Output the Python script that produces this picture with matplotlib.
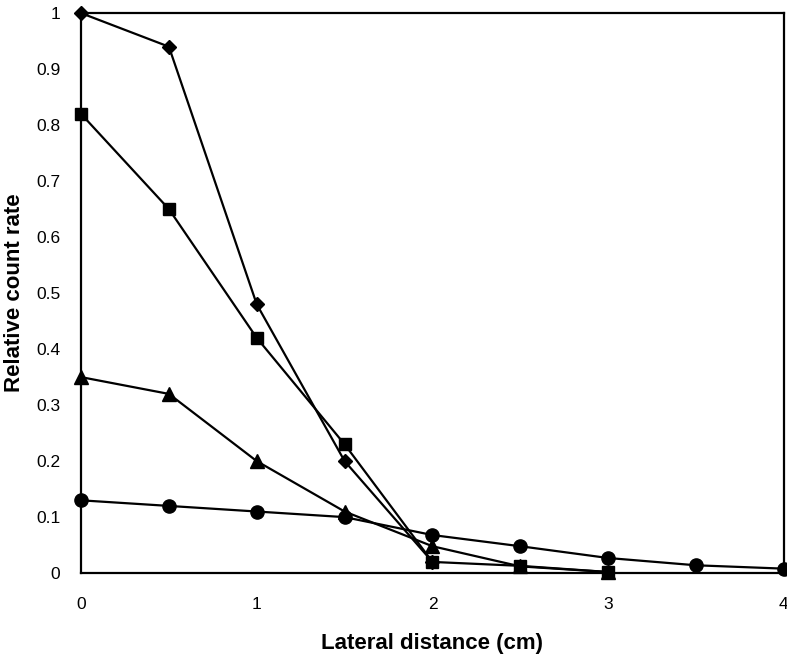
import matplotlib
matplotlib.use('Agg')
import matplotlib.pyplot as plt

plt.rcParams['font.family'] = ['Liberation Sans', 'DejaVu Sans']

# lateral distance (cm)
x_diamond = [0, 0.5, 1, 1.5, 2]
y_diamond = [1.0, 0.94, 0.48, 0.20, 0.02]

x_square = [0, 0.5, 1, 1.5, 2, 2.5, 3]
y_square = [0.82, 0.65, 0.42, 0.23, 0.02, 0.013, 0.002]

x_triangle = [0, 0.5, 1, 1.5, 2, 2.5, 3]
y_triangle = [0.35, 0.32, 0.20, 0.11, 0.048, 0.012, 0.002]

x_circle = [0, 0.5, 1, 1.5, 2, 2.5, 3, 3.5, 4]
y_circle = [0.13, 0.12, 0.11, 0.10, 0.068, 0.048, 0.027, 0.014, 0.008]

xticks = [0, 1, 2, 3, 4]
yticks = [0, 0.1, 0.2, 0.3, 0.4, 0.5, 0.6, 0.7, 0.8, 0.9, 1]
ylabels = ['0', '0.1', '0.2', '0.3', '0.4', '0.5', '0.6', '0.7', '0.8', '0.9', '1']

fig = plt.figure(figsize=(7.87, 6.55), dpi=100)
ax = fig.add_axes([0.103, 0.125, 0.893, 0.855])

kw = dict(color='black', linewidth=1.6, clip_on=False)
ax.plot(x_circle, y_circle, marker='o', markersize=9.5, **kw)
ax.plot(x_triangle, y_triangle, marker='^', markersize=9.5, **kw)
ax.plot(x_square, y_square, marker='s', markersize=9, **kw)
ax.plot(x_diamond, y_diamond, marker='D', markersize=7, **kw)

ax.set_xlim(0, 4)
ax.set_ylim(0, 1)
ax.set_xticks(xticks)
ax.set_xticklabels([str(t) for t in xticks])
ax.set_yticks(yticks)
ax.set_yticklabels(ylabels)
ax.tick_params(length=0, labelsize=12.5)
ax.tick_params(axis='x', pad=17)
ax.tick_params(axis='y', pad=15)
for s in ax.spines.values():
    s.set_linewidth(1.6)

ax.set_xlabel('Lateral distance (cm)', fontsize=16, fontweight='bold', labelpad=15)
ax.set_ylabel('Relative count rate', fontsize=16, fontweight='bold', labelpad=8)

fig.savefig('out.png', dpi=100)
